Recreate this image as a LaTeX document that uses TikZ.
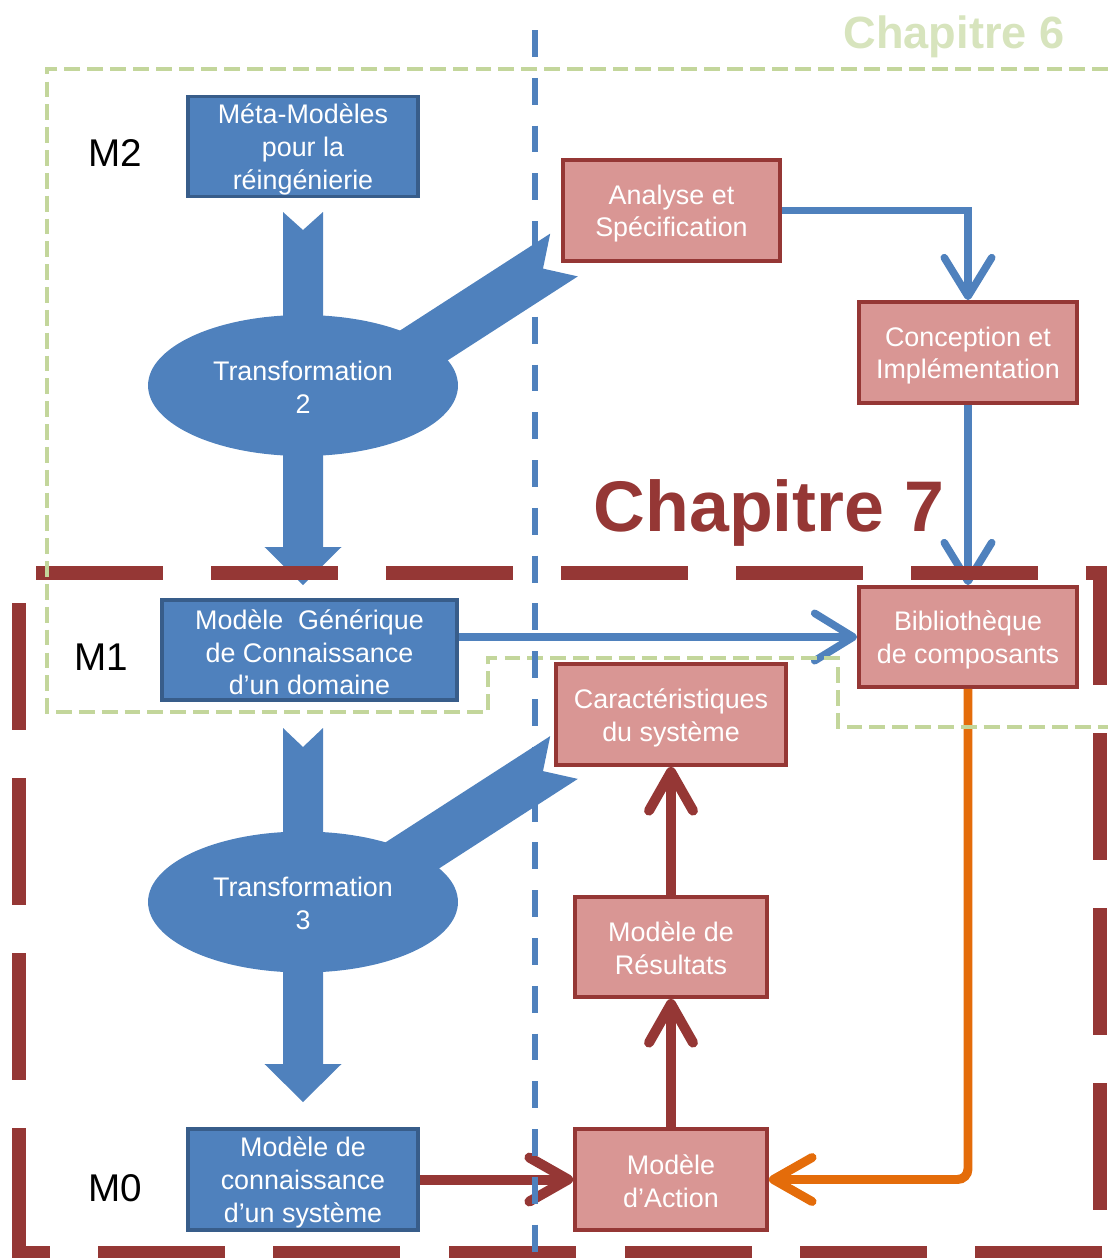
\documentclass[tikz,border=0pt]{standalone}
\usepackage{fontspec}
\setmainfont{Liberation Sans}
\usetikzlibrary{arrows.meta,shapes.geometric}
\definecolor{bl}{HTML}{4F81BD}
\definecolor{bld}{HTML}{385D8A}
\definecolor{rd}{HTML}{953735}
\definecolor{pk}{HTML}{D99694}
\definecolor{gr}{HTML}{C3D69B}
\definecolor{grt}{HTML}{D7E4BD}
\definecolor{og}{HTML}{E46C0A}
\newcommand\bxfont{\fontsize{15.3pt}{18.7pt}\selectfont}
\begin{document}
\begin{tikzpicture}[x=0.02cm,y=-0.02cm,
  txt/.style={text=white,align=center,font=\bxfont,inner sep=0pt,yshift=-1.7pt},
  txs/.style={txt,yshift=0.9pt},
  boxb/.style={draw=bld,fill=bl,line width=2.2pt,inner sep=0pt},
  boxr/.style={draw=rd,fill=pk,line width=2.2pt,inner sep=0pt},
  ell/.style={ellipse,fill=bl,draw=none,inner sep=0pt,minimum width=6.2cm,minimum height=2.82cm},
  lvl/.style={font=\fontsize{22pt}{26pt}\selectfont,text=black},
  bconn/.style={draw=bl,line width=4.3pt,-{Straight Barb[length=22pt,width=27pt,round]}},
  rconn/.style={draw=rd,line width=5.7pt,-{Straight Barb[length=22pt,width=25pt,round]}},
  oconn/.style={draw=og,line width=5.1pt,rounded corners=6pt,-{Straight Barb[length=22pt,width=25pt,round]}},
  redb/.style={draw=rd,line width=8.5pt,line cap=butt,line join=miter},
  greenb/.style={draw=gr,line width=2.8pt,dash pattern=on 9pt off 4pt},
  bluedash/.style={draw=bl,line width=3.7pt,dash pattern=on 15.3pt off 11.9pt}
]
\useasboundingbox (0,0) rectangle (1108,1258);

% block arrows (behind ellipses)
\fill[bl] (283,212) -- (303,230) -- (323,212) -- (323,547) -- (341.5,547) -- (303,585) -- (264.5,547) -- (283,547) -- cycle;
\fill[bl] (283,728) -- (303,747) -- (323,728) -- (323,1064) -- (341.5,1064) -- (303,1102) -- (264.5,1064) -- (283,1064) -- cycle;
\foreach \dy in {0,502.5}{
  \fill[bl] (550.2,233.6+\dy) -- (543,268.6+\dy) -- (577.8,276.4+\dy) -- (372,409.2+\dy) -- (379.9,421.4+\dy) -- (320.4,412.2+\dy) -- (336.5,354.2+\dy) -- (344.4,366.4+\dy) -- cycle;
}

% ellipses
\node[ell,label={[txs]center:{Transformation\\2}}] (t2) at (303,385.5) {};
\node[ell,label={[txs]center:{Transformation\\3}}] (t3) at (303,902) {};

% boxes
\node[boxb,minimum width=4.6cm,minimum height=2.0cm,label={[txt]center:{Méta-Modèles\\pour la\\réingénierie}}] (meta) at (303,146.5) {};
\node[boxb,minimum width=5.9cm,minimum height=2.0cm,label={[txt,yshift=0.4pt]center:{Modèle\ \ Générique\\de Connaissance\\d’un domaine}}] (gen) at (309.5,650) {};
\node[boxb,minimum width=4.6cm,minimum height=2.02cm,label={[txt]center:{Modèle de\\connaissance\\d’un système}}] (sys) at (303,1179.5) {};

\node[boxr,minimum width=4.34cm,minimum height=2.02cm,label={[txt]center:{Analyse et\\Spécification}}] (ana) at (671.5,210.5) {};
\node[boxr,minimum width=4.36cm,minimum height=2.02cm,label={[txt]center:{Conception et\\Implémentation}}] (conc) at (968,352.5) {};
\node[boxr,minimum width=4.36cm,minimum height=2.0cm,label={[txt]center:{Bibliothèque\\de composants}}] (bib) at (968,637) {};
\node[boxr,minimum width=4.6cm,minimum height=2.02cm,label={[txt]center:{Caractéristiques\\du système}}] (car) at (671,714.5) {};
\node[boxr,minimum width=3.84cm,minimum height=2.0cm,label={[txs]center:{Modèle de\\Résultats}}] (res) at (671,947) {};
\node[boxr,minimum width=3.84cm,minimum height=2.02cm,label={[txs]center:{Modèle\\d’Action}}] (act) at (671,1179.5) {};

% connectors
\draw[bconn] (ana.east) -| (conc.north);
\draw[bconn] (conc.south) -- (bib.north);
\draw[bconn] (gen.east |- bib.west) -- (bib.west);
\draw[oconn] (bib.south) |- (act.east);
\draw[rconn] (sys.east) -- (act.west);
\draw[rconn] (act.north) -- (res.south);
\draw[rconn] (res.north) -- (car.south);

% level labels
\node[lvl] (m2) at (115,153) {M2};
\node[lvl] (m1) at (101,657) {M1};
\node[lvl] (m0) at (115,1188) {M0};

% chapter titles
\node[font=\bfseries\fontsize{25.7pt}{30pt}\selectfont,text=grt] (ch6) at (954,37) {Chapitre 6};
\node[font=\bfseries\fontsize{40.8pt}{48pt}\selectfont,text=rd] (ch7) at (769,513) {Chapitre 7};

% red dashed border (Chapitre 7)
\foreach \a in {36,211,386,561,736,911}{\draw[redb] (\a,573) -- ++(127,0);}
\draw[redb] (1086,573) -- (1100,573) -- (1100,685);
\foreach \a in {733,908,1083}{\draw[redb] (1100,\a) -- ++(0,127);}
\foreach \a in {98,273,449,625,800,975}{\draw[redb] (\a,1253) -- ++(127,0);}
\draw[redb] (50,1253) -- (19,1253) -- (19,1128);
\foreach \a in {603,778,953}{\draw[redb] (19,\a) -- ++(0,127);}

% green dashed border (Chapitre 6)
\draw[greenb] (1108,69) -- (47,69) -- (47,712) -- (488,712) -- (488,658) -- (838,658) -- (838,727) -- (1108,727);

% blue vertical dashed separator
\draw[bluedash] (535,30) -- (535,1258);
\end{tikzpicture}
\end{document}
